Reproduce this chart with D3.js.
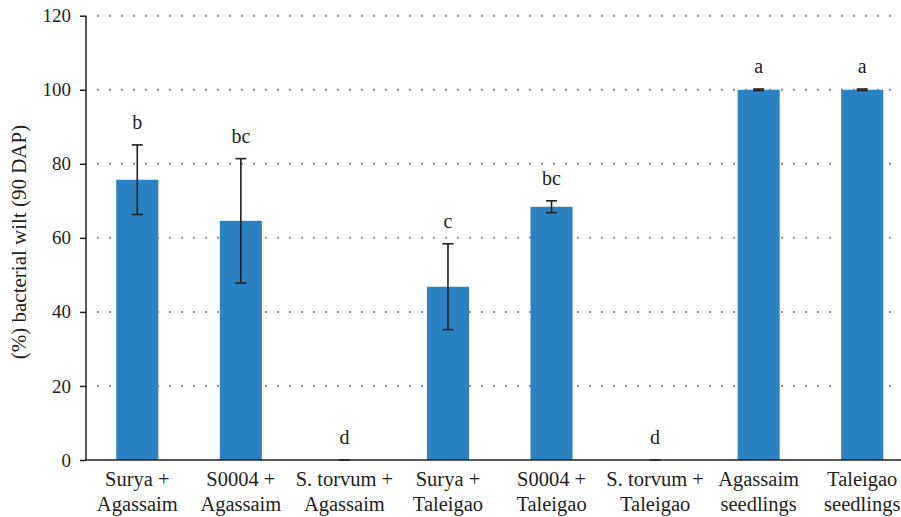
<!DOCTYPE html>
<html><head><meta charset="utf-8">
<script src="https://cdn.jsdelivr.net/npm/d3@7"></script>
<style>body{margin:0;background:#fff}svg{display:block}text{font-family:"Liberation Serif","DejaVu Serif",serif;fill:#231f20}</style>
</head><body><svg id="c" width="901" height="517"></svg>
<script>
const categories = [["Surya +","Agassaim"],["S0004 +","Agassaim"],["S. torvum +","Agassaim"],["Surya +","Taleigao"],["S0004 +","Taleigao"],["S. torvum +","Taleigao"],["Agassaim","seedlings"],["Taleigao","seedlings"]];
const values = [75.7, 64.6, 0, 46.8, 68.4, 0, 100, 100];
const errors = [9.4, 16.8, 0, 11.6, 1.6, 0, 0.2, 0.2];
const letters = ["b","bc","d","c","bc","d","a","a"];
const yTicks = [0,20,40,60,80,100,120];
const yTitle = "(%) bacterial wilt (90 DAP)";

const svg = d3.select("#c");
const x = d3.scaleBand().domain(d3.range(categories.length)).range([85.5, 914]).paddingInner(0.594).paddingOuter(0.297);
const y = d3.scaleLinear().domain([0,120]).range([460, 15.7]);
const ink = "#231f20";

// grid
svg.append("g").selectAll("line").data(yTicks.filter(d=>d>0)).join("line")
  .attr("x1",97).attr("x2",893).attr("y1",d=>y(d)).attr("y2",d=>y(d))
  .attr("stroke","#888").attr("stroke-width",2).attr("stroke-dasharray","2,10");

// bars
svg.append("g").selectAll("rect").data(values).join("rect")
  .attr("x",(d,i)=>x(i)).attr("width",x.bandwidth())
  .attr("y",d=>y(d)).attr("height",d=>y(0)-y(d)).attr("fill","#2b82c2");

// error bars
const eg = svg.append("g").attr("stroke",ink).attr("stroke-width",1.6);
values.forEach((v,i)=>{
  const cx = x(i)+x.bandwidth()/2;
  const e = errors[i];
  if (e>0) {
    eg.append("line").attr("x1",cx).attr("x2",cx).attr("y1",y(v+e)).attr("y2",y(v-e));
  }
  eg.append("line").attr("x1",cx-5.5).attr("x2",cx+5.5).attr("y1",y(v+e)).attr("y2",y(v+e));
  if (e>0) eg.append("line").attr("x1",cx-5.5).attr("x2",cx+5.5).attr("y1",y(v-e)).attr("y2",y(v-e));
});

// letters
svg.append("g").selectAll("text").data(letters).join("text")
  .attr("x",(d,i)=>x(i)+x.bandwidth()/2)
  .attr("y",(d,i)=>y(values[i]+errors[i])-16)
  .attr("text-anchor","middle").attr("font-size",20).text(d=>d);

// y axis
const ya = svg.append("g").attr("transform","translate(86,0)")
  .call(d3.axisLeft(y).tickValues(yTicks).tickSize(6).tickPadding(9));
ya.select(".domain").attr("stroke",ink).attr("stroke-width",1.5).attr("d","M0,"+y(120)+"V"+y(0));
ya.selectAll(".tick line").attr("stroke",ink).attr("stroke-width",1.5);
ya.selectAll(".tick text").attr("font-size",19).attr("font-family","Liberation Serif").attr("fill",ink);

// x axis line
svg.append("line").attr("x1",85.3).attr("x2",901).attr("y1",y(0)).attr("y2",y(0)).attr("stroke",ink).attr("stroke-width",1.5);

// x labels
const xl = svg.append("g").selectAll("text").data(categories).join("text")
  .attr("x",(d,i)=>x(i)+x.bandwidth()/2).attr("text-anchor","middle").attr("font-size",20.5);
xl.append("tspan").attr("x",(d,i)=>x(i)+x.bandwidth()/2).attr("y",486).text(d=>d[0]);
xl.append("tspan").attr("x",(d,i)=>x(i)+x.bandwidth()/2).attr("y",510.5).text(d=>d[1]);

// y title
svg.append("text").attr("transform","translate(26,242) rotate(-90)").attr("text-anchor","middle")
  .attr("font-size",21).text(yTitle);
</script></body></html>
